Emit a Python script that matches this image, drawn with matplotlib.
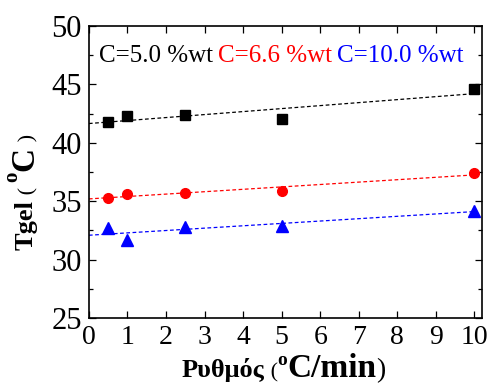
import numpy as np
import matplotlib
matplotlib.use("Agg")
import matplotlib.pyplot as plt
from matplotlib.ticker import MultipleLocator

plt.rcParams['font.family'] = ['Liberation Serif', 'DejaVu Serif']

rate = [0.5, 1, 2.5, 5, 10]
tgel_50 = [41.8, 42.3, 42.4, 42.0, 44.6]
tgel_66 = [35.3, 35.6, 35.7, 35.9, 37.4]
tgel_100 = [32.7, 31.7, 32.8, 32.9, 34.2]
series_labels = ["C=5.0 %wt", "C=6.6 %wt", "C=10.0 %wt"]
series_colors = ["black", "red", "blue"]
series_markers = ["s", "o", "^"]
marker_sizes = [6.5, 7, 8]

fig = plt.figure(figsize=(4.91, 3.87), dpi=100)
ax = fig.add_axes([0.181, 0.178, 0.801, 0.755])

xfit = np.array([0, 10])
for y, col, mk, ms in zip([tgel_50, tgel_66, tgel_100], series_colors,
                          series_markers, marker_sizes):
    k, b = np.polyfit(rate, y, 1)
    ax.plot(xfit, k * xfit + b, color=col, lw=0.9, dashes=(3, 2))
    ax.plot(rate, y, mk, color=col, ms=ms, ls='none')

ax.set_xlim(0, 10.2)
ax.set_ylim(25, 50)
ax.xaxis.set_major_locator(MultipleLocator(1))
ax.yaxis.set_major_locator(MultipleLocator(5))
ax.yaxis.set_minor_locator(MultipleLocator(2.5))
ax.tick_params(which='both', direction='in', top=True, right=True)
ax.tick_params(which='major', length=5, width=0.9)
ax.tick_params(which='minor', length=3, width=0.9)
ax.tick_params(axis='x', labelsize=20, pad=5)
ax.tick_params(axis='y', labelsize=22, pad=5)
for sp in ax.spines.values():
    sp.set_linewidth(1.2)

# legend-like coloured labels
leg_x = [0.025, 0.328, 0.631]
for lx, lab, col in zip(leg_x, series_labels, series_colors):
    ax.text(lx, 0.877, lab, color=col, fontsize=18, transform=ax.transAxes,
            ha='left', va='baseline')


def write_pieces(x, y, pieces, vertical=False):
    # pieces: (text, size, weight, raise_px)
    fig.canvas.draw()
    r = fig.canvas.get_renderer()
    pos = x if not vertical else y
    for txt, size, weight, rise in pieces:
        if vertical:
            t = fig.text(0, 0, txt, fontsize=size, fontweight=weight,
                         rotation=90, rotation_mode='anchor',
                         ha='left', va='baseline', transform=None)
            t.set_position((x - rise, pos))
            ext = t.get_window_extent(r)
            pos += ext.height
        else:
            t = fig.text(0, 0, txt, fontsize=size, fontweight=weight,
                         ha='left', va='baseline', transform=None)
            t.set_position((pos, y + rise))
            ext = t.get_window_extent(r)
            pos += ext.width


write_pieces(182, 10, [("Ρυθμός", 19, 'bold', 0),
                       (" (", 16, 'normal', 0),
                       ("o", 14, 'bold', 12),
                       ("C/min", 24, 'bold', 0),
                       (")", 20, 'normal', 0)])

write_pieces(33, 137, [("Tgel", 19, 'bold', 0),
                       (" ( ", 16, 'normal', 0),
                       ("o", 15, 'bold', 16),
                       ("C", 24, 'bold', 0),
                       (" )", 16, 'normal', 0)], vertical=True)

fig.savefig("out.png", dpi=100)
